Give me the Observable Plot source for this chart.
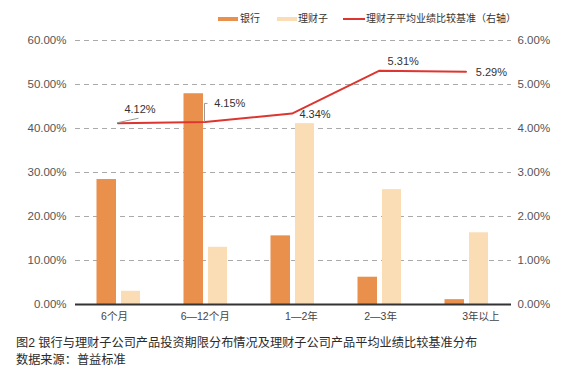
<!DOCTYPE html>
<html>
<head>
<meta charset="utf-8">
<script src="https://cdn.jsdelivr.net/npm/d3@7"></script>
<script src="https://cdn.jsdelivr.net/npm/@observablehq/plot@0.6"></script>
<style>
  html, body { margin: 0; padding: 0; background: #fff; }
  body { width: 582px; height: 379px; position: relative; overflow: hidden;
         font-family: "Liberation Sans", Arial, "Noto Sans CJK SC", sans-serif; color: #333; }
  #legend { position: relative; height: 30px; font-size: 10px; }
  #legend .sw { position: absolute; }
  #legend .tx { position: absolute; top: 13px; line-height: 12px; white-space: nowrap; }
  #chart { position: relative; height: 300px; }
  #caption { position: relative; padding-left: 16px; font-size: 12.2px; line-height: 17px; color: #2b2b2b; margin-top: 5px; white-space: pre; }
</style>
</head>
<body>
<div id="legend"></div>
<div id="chart"></div>
<div id="caption"></div>
<script>
const categories = ["6个月", "6—12个月", "1—2年", "2—3年", "3年以上"];
const bankShare = [28.4, 47.9, 15.6, 6.2, 1.1];      // 银行 (%)
const wealthShare = [3.0, 13.0, 41.1, 26.1, 16.3];   // 理财子 (%)
const benchmark = [4.12, 4.15, 4.34, 5.31, 5.29];    // 理财子平均业绩比较基准 (%, 右轴)
const leftTicks = [0, 10, 20, 30, 40, 50, 60];
const rightTicks = [0, 1, 2, 3, 4, 5, 6];
const seriesNames = ["银行", "理财子", "理财子平均业绩比较基准（右轴）"];
const captionLines = ["图2 银行与理财子公司产品投资期限分布情况及理财子公司产品平均业绩比较基准分布", "数据来源：普益标准"];

const bankColor = "#E8904C";
const wealthColor = "#FADDB5";
const lineColor = "#DD3530";

const rows = categories.map((c, i) => ({cat: c, bank: bankShare[i], wealth: wealthShare[i], rate: benchmark[i], i}));
const RATIO = 10; // right axis 6% maps onto left 60%

// Legend
const legend = document.getElementById("legend");
const legendItems = [
  {sw: {left: 218, top: 17, width: 20, height: 4, background: bankColor}, tx: 240},
  {sw: {left: 277, top: 17, width: 20, height: 4, background: wealthColor}, tx: 298},
  {sw: {left: 343, top: 18, width: 22, height: 2, background: lineColor}, tx: 366}
];
legendItems.forEach((it, k) => {
  const s = document.createElement("div");
  s.className = "sw";
  Object.entries(it.sw).forEach(([key, v]) => s.style[key] = typeof v === "number" ? v + "px" : v);
  legend.appendChild(s);
  const t = document.createElement("div");
  t.className = "tx";
  t.style.left = it.tx + "px";
  t.textContent = seriesNames[k];
  legend.appendChild(t);
});

// Caption
const cap = document.getElementById("caption");
captionLines.forEach(l => { const d = document.createElement("div"); d.textContent = l; cap.appendChild(d); });

const leaders = (index, scales) => {
  const x = scales.x, y = scales.y;
  const cx = c => x(c) + x.bandwidth() / 2 - 2;
  const g = d3.create("svg:g").attr("fill", "none").attr("stroke", "#999").attr("stroke-width", 1);
  g.append("path").attr("d", `M${cx(categories[0])},${y(benchmark[0] * RATIO)}l21,-4.5`);
  g.append("path").attr("d", `M${cx(categories[1])},${y(benchmark[1] * RATIO)}v-18h3`);
  return g.node();
};

const label = (i, dx, dy) => Plot.text(rows.filter(d => d.i === i), {
  x: "cat", y: d => d.rate * RATIO, text: d => d.rate.toFixed(2) + "%",
  dx, dy, textAnchor: "start", fontSize: 11, fill: "#333"
});

const catLabel = (i, dx) => Plot.axisX([categories[i]], {anchor: "bottom", tickSize: 0, tickPadding: 8,
  fontSize: 10.5, fill: "#444", label: null, dx});

const plot = Plot.plot({
  width: 582,
  height: 300,
  marginTop: 10,
  marginBottom: 26,
  marginLeft: 75,
  marginRight: 71,
  style: {fontFamily: '"Liberation Sans", Arial, "Noto Sans CJK SC", sans-serif', color: "#555", background: "transparent"},
  x: {type: "band", domain: categories, padding: 0},
  y: {domain: [0, 60]},
  marks: [
    Plot.ruleY(leftTicks.filter(d => d > 0), {stroke: "#aaa", strokeDasharray: "5,4", strokeWidth: 1}),
    Plot.barY(rows, {x: "cat", y: "bank", fill: bankColor, insetLeft: 20.5, insetRight: 47}),
    Plot.barY(rows, {x: "cat", y: "wealth", fill: wealthColor, insetLeft: 45, insetRight: 23}),
    Plot.ruleY([0], {stroke: "#333", strokeWidth: 2}),
    Plot.line(rows, {x: "cat", y: d => d.rate * RATIO, stroke: lineColor, strokeWidth: 2, dx: -2}),
    leaders,
    label(0, 4.4, -13.4),
    label(1, 7.2, -18),
    label(2, 5.4, 1),
    label(3, 6.6, -9.6),
    label(4, 7.8, 0.6),
    Plot.axisY(leftTicks, {anchor: "left", tickSize: 0, tickPadding: 9, fontSize: 11.5,
      tickFormat: d => d.toFixed(2) + "%", label: null}),
    Plot.axisY(rightTicks.map(d => d * RATIO), {anchor: "right", tickSize: 0, tickPadding: 6, fontSize: 11.5,
      tickFormat: d => (d / RATIO).toFixed(2) + "%", label: null}),
    catLabel(0, -5.5),
    catLabel(1, -1.8),
    catLabel(2, 7.4),
    catLabel(3, -0.4),
    catLabel(4, 12.8)
  ]
});
document.getElementById("chart").appendChild(plot);
</script>
</body>
</html>
